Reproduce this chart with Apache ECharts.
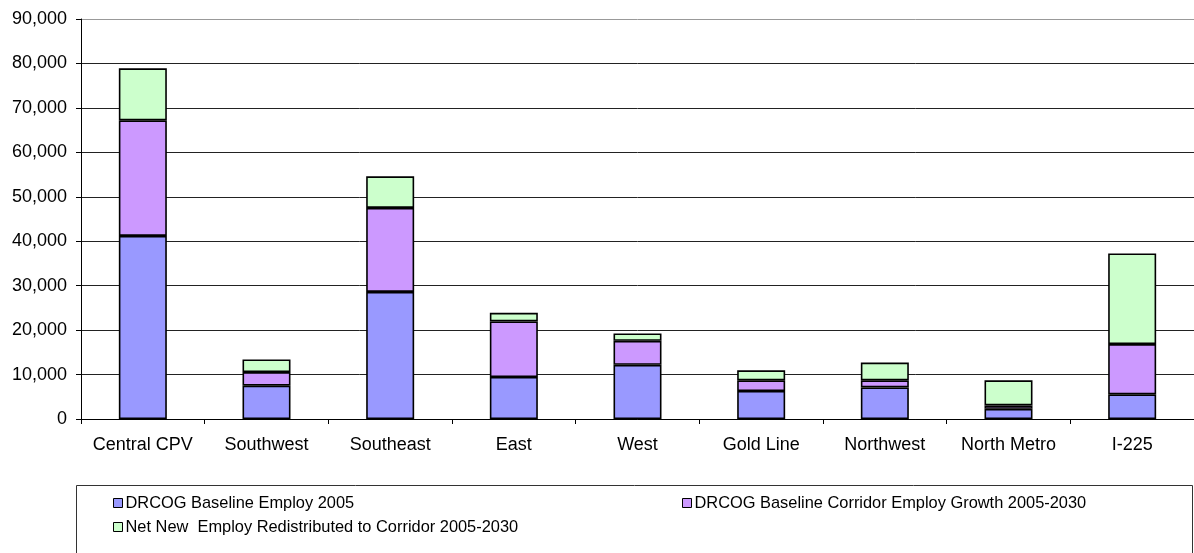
<!DOCTYPE html>
<html>
<head>
<meta charset="utf-8">
<script src="https://cdn.jsdelivr.net/npm/echarts@6/dist/echarts.min.js"></script>
<style>
  html, body { margin: 0; padding: 0; background: #fff; }
  #chart { width: 1194px; height: 553px; }
</style>
</head>
<body>
<div id="chart"></div>
<script>
// Corridor employment: 2005 baseline, baseline growth to 2030, redistributed growth
const corridors = ['Central CPV', 'Southwest', 'Southeast', 'East', 'West', 'Gold Line', 'Northwest', 'North Metro', 'I-225'];
const baseline2005 = [41200, 7500, 28600, 9450, 12200, 6300, 7100, 2300, 5550];
const baselineGrowth = [26000, 3050, 18900, 12500, 5400, 2400, 1600, 750, 11300];
const netNewRedistributed = [11700, 2850, 7100, 1950, 1650, 2250, 4000, 5650, 20400];
const seriesNames = [
  'DRCOG Baseline Employ 2005',
  'DRCOG Baseline Corridor Employ Growth 2005-2030',
  'Net New  Employ Redistributed to Corridor 2005-2030'
];
const yTicks = [0, 10000, 20000, 30000, 40000, 50000, 60000, 70000, 80000, 90000];

const FONT = 'Liberation Sans, Arial, sans-serif';
const colors = ['#9999FF', '#CC99FF', '#CCFFCC'];
const values = [baseline2005, baselineGrowth, netNewRedistributed];

const chart = echarts.init(document.getElementById('chart'));

const barSeries = values.map((vals, i) => ({
  name: seriesNames[i],
  type: 'bar',
  stack: 'total',
  data: vals,
  barWidth: 48,
  itemStyle: { color: colors[i], borderColor: '#000', borderWidth: 1.6 },
  emphasis: { disabled: true },
  animation: false
}));

const legendBase = {
  orient: 'vertical',
  icon: 'rect',
  itemWidth: 9,
  itemHeight: 9,
  itemGap: 8,
  itemStyle: { borderColor: '#000', borderWidth: 1 },
  textStyle: { fontFamily: FONT, fontSize: 16.4, color: '#000', padding: [0, 0, 0, -2] },
  selectedMode: false,
  padding: 0
};

chart.setOption({
  animation: false,
  backgroundColor: '#fff',
  grid: { left: 81, top: 19, width: 1120, bottom: 134, containLabel: false },
  xAxis: {
    type: 'category',
    data: corridors,
    axisLine: { lineStyle: { color: '#000', width: 1 } },
    axisTick: { show: true, interval: 0, length: 5, lineStyle: { color: '#000' } },
    axisLabel: { interval: 0, fontFamily: FONT, fontSize: 18, color: '#000', margin: 17 },
    splitLine: { show: false }
  },
  yAxis: {
    type: 'value',
    min: yTicks[0],
    max: yTicks[yTicks.length - 1],
    interval: yTicks[1] - yTicks[0],
    axisLine: { show: true, lineStyle: { color: '#000', width: 1 } },
    axisTick: { show: true, length: 5, lineStyle: { color: '#000' } },
    axisLabel: {
      fontFamily: FONT, fontSize: 18, color: '#000', margin: 14,
      formatter: v => v.toLocaleString('en-US')
    },
    splitLine: {
      show: true,
      lineStyle: {
        color: yTicks.map((t, i) => i === yTicks.length - 1 ? '#999' : '#222'),
        width: 1
      }
    }
  },
  legend: [
    Object.assign({}, legendBase, { data: [seriesNames[0], seriesNames[2]], left: 113, top: 495 }),
    Object.assign({}, legendBase, { data: [seriesNames[1]], left: 682, top: 495 })
  ],
  graphic: [{
    type: 'rect',
    shape: { x: 76.5, y: 485.5, width: 1116, height: 80 },
    style: { fill: 'none', stroke: '#333', lineWidth: 1 },
    silent: true
  }],
  series: barSeries
});
</script>
</body>
</html>
